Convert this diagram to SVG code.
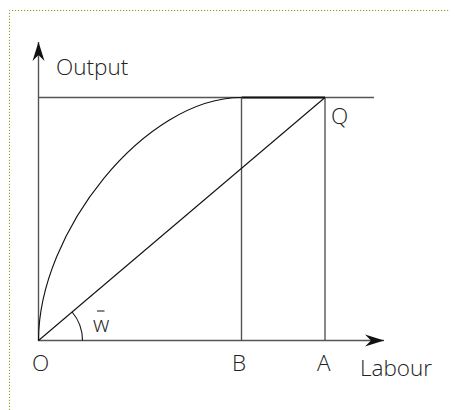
<svg xmlns="http://www.w3.org/2000/svg" width="455" height="410" viewBox="0 0 455 410">
<style>
.lbl{font-family:"Open Sans","Liberation Sans",sans-serif;font-size:22.5px;font-weight:300;fill:#222}
.ax{stroke:#555;stroke-width:1.4;fill:none}
.ln{stroke:#111;stroke-width:1.1;fill:none}
.frame{stroke:#8c9a10;stroke-width:1;stroke-dasharray:1.2 1.8;fill:none}
</style>
<defs>
<marker id="arr" markerUnits="userSpaceOnUse" viewBox="-20 -7 22 14" refX="0" refY="0" markerWidth="22" markerHeight="14" orient="auto">
<path d="M0,0 L-19,-6 L-13,0 L-19,6 Z" fill="#111"/>
</marker>
</defs>
<rect width="455" height="410" fill="#fff"/>
<path class="frame" d="M9.5,410 V10.5 H449"/>
<g id="connectors">
<line class="ax" x1="38.5" y1="341" x2="38.5" y2="42" marker-end="url(#arr)"/>
<line class="ax" x1="38" y1="340.5" x2="384" y2="340.5" marker-end="url(#arr)"/>
<line class="ax" x1="38.5" y1="97.5" x2="374" y2="97.5"/>
<line x1="241.5" y1="97.5" x2="325" y2="97.5" stroke="#111" stroke-width="2.2"/>
<line class="ax" x1="241.5" y1="97.5" x2="241.5" y2="340.5"/>
<line class="ax" x1="325" y1="97.5" x2="325" y2="340.5"/>
<path class="ln" d="M38.5,340.5 C38.5,232 145,97.5 241.5,97.5"/>
<path class="ln" d="M38.5,340.5 L325,97.5"/>
<path class="ln" d="M82.5,340.5 A44,44 0 0,0 72.1,312"/>
</g>
<g id="output"><text class="lbl" x="56" y="75">Output</text></g>
<g id="Q"><text class="lbl" x="331" y="124">Q</text></g>
<g id="O"><text class="lbl" x="32" y="371">O</text></g>
<g id="B"><text class="lbl" x="232" y="371">B</text></g>
<g id="A"><text class="lbl" x="317" y="371">A</text></g>
<g id="labour"><text class="lbl" x="360" y="376">Labour</text></g>
<g id="w"><text class="lbl" x="93" y="332">w</text><line x1="97" y1="311" x2="104.5" y2="311" stroke="#555" stroke-width="1.4"/></g>
</svg>
